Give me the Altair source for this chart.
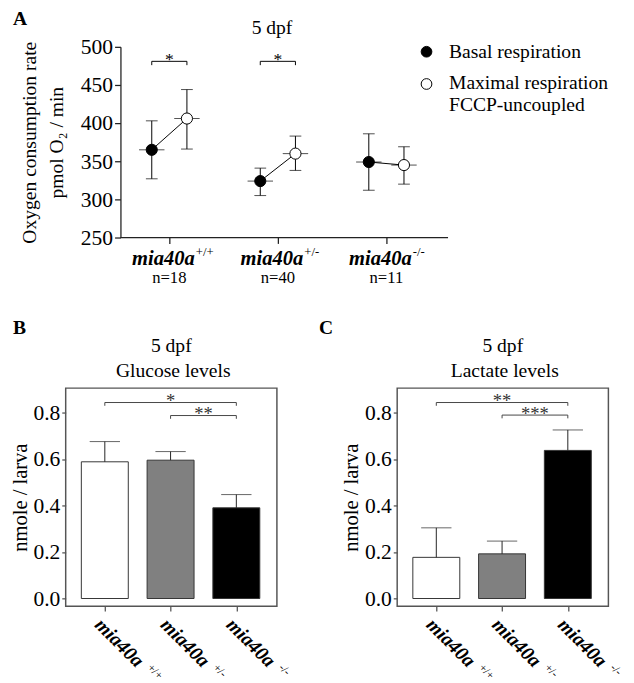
import altair as alt
import pandas as pd

FONT = "Liberation Serif"

# ---------------- Panel A : oxygen consumption ----------------
a_groups = [1, 2, 3]
a_genotype = ["+/+", "+/-", "-/-"]
a_n = ["n=18", "n=40", "n=11"]
series_names = ["Basal respiration", "Maximal respiration"]
basal_mean = [365, 324, 349]
basal_low = [327, 305, 312]
basal_high = [403, 341, 386]
maximal_mean = [406, 360, 345]
maximal_low = [366, 338, 320]
maximal_high = [444, 383, 369]
a_sig_groups = [1, 2]
a_sig_text = ["*", "*"]
a_sig_level = [481, 481]
a_sig_drop = [476, 476]
a_ticks = [250, 300, 350, 400, 450, 500]

# ---------------- Panels B / C : glucose, lactate ----------------
bar_genotype = ["+/+", "+/-", "-/-"]
glucose_mean = [0.588, 0.595, 0.390]
glucose_err = [0.675, 0.632, 0.447]
glucose_sig_from = [0, 1]
glucose_sig_to = [2, 2]
glucose_sig_level = [0.843, 0.787]
glucose_sig_drop = [0.829, 0.773]
glucose_sig_text = ["*", "**"]

lactate_mean = [0.177, 0.192, 0.637]
lactate_err = [0.304, 0.247, 0.725]
lactate_sig_from = [0, 1]
lactate_sig_to = [2, 2]
lactate_sig_level = [0.843, 0.789]
lactate_sig_drop = [0.829, 0.775]
lactate_sig_text = ["**", "***"]
b_ticks = [0, 0.2, 0.4, 0.6, 0.8]

# layout constants (scale domains / offsets)
A_DOMAIN = [0.045, 3.568]
A_AXIS_START = 0.55
OFF = 0.162   # horizontal offset of the two series inside a group
HALF = 0.357  # half bar width in index units
B_DOMAIN = [-0.595, 2.617]

# ---------- Panel A ----------
rows = []
for i, g in enumerate(a_groups):
    rows.append(dict(group=g, series=series_names[0], mean=basal_mean[i],
                     low=basal_low[i], high=basal_high[i], x=g - OFF))
    rows.append(dict(group=g, series=series_names[1], mean=maximal_mean[i],
                     low=maximal_low[i], high=maximal_high[i], x=g + OFF))
dfA = pd.DataFrame(rows)

dfA_sig = pd.DataFrame({"group": a_sig_groups, "text": a_sig_text,
                        "level": a_sig_level, "drop": a_sig_drop})
dfA_sig["x1"] = dfA_sig["group"] - OFF
dfA_sig["x2"] = dfA_sig["group"] + OFF
ends = []
for _, r in dfA_sig.iterrows():
    ends.append(dict(x=r["x1"], level=r["level"], drop=r["drop"]))
    ends.append(dict(x=r["x2"], level=r["level"], drop=r["drop"]))
dfA_ends = pd.DataFrame(ends)

dfA_lab = pd.DataFrame({"group": a_groups, "geno": a_genotype, "n": a_n,
                        "name": ["mia40a"] * 3})

WA, HA = 391, 195
xscaleA = alt.Scale(domain=A_DOMAIN, nice=False, zero=False)
yscaleA = alt.Scale(domain=[250, 500], nice=False, zero=False)
xaxisA = alt.Axis(values=[1, 2, 3], labels=False, title=None, tickSize=6, domain=False,
                  tickColor="#222")
yaxisA = alt.Axis(values=a_ticks, tickSize=6, offset=-56, labelOverlap=False,
                  title=["Oxygen consumption rate", "pmol O\u2082 / min"],
                  titleFontSize=20, titleLineHeight=28, titlePadding=14,
                  domainColor="#222", tickColor="#222")


def XA(f):
    return alt.X(f, scale=xscaleA, axis=xaxisA)


def YA(f):
    return alt.Y(f, scale=yscaleA, axis=yaxisA)


base = alt.Chart(dfA)
lines = base.mark_line(color="black", strokeWidth=1).encode(x=XA("x:Q"), y=YA("mean:Q"), detail="group:N")
xaxis_line = alt.Chart(pd.DataFrame({"xs": [A_AXIS_START], "xe": [A_DOMAIN[1]]})).mark_rule(
    color="#222", strokeWidth=1.3).encode(x=XA("xs:Q"), x2="xe:Q", y=alt.value(HA))
err = base.mark_rule(color="black", strokeWidth=1).encode(x=XA("x:Q"), y=YA("low:Q"), y2="high:Q")
cap_lo = base.mark_tick(orient="horizontal", size=12, thickness=1, color="black").encode(
    x=XA("x:Q"), y=YA("low:Q"))
cap_hi = base.mark_tick(orient="horizontal", size=12, thickness=1, color="black").encode(
    x=XA("x:Q"), y=YA("high:Q"))
cross = base.mark_tick(orient="horizontal", size=26, thickness=1, color="black").encode(
    x=XA("x:Q"), y=YA("mean:Q"))
pts = base.mark_circle(size=130, opacity=1, stroke="black", strokeWidth=1).encode(
    x=XA("x:Q"), y=YA("mean:Q"),
    fill=alt.Fill("series:N", scale=alt.Scale(domain=series_names, range=["black", "white"]), legend=None))

sigA = alt.Chart(dfA_sig)
br = sigA.mark_rule(color="black", strokeWidth=1).encode(x=XA("x1:Q"), x2="x2:Q", y=YA("level:Q"))
br_ends = alt.Chart(dfA_ends).mark_rule(color="black", strokeWidth=1).encode(
    x=XA("x:Q"), y=YA("level:Q"), y2="drop:Q")
stars = sigA.mark_text(fontSize=18, baseline="alphabetic", dy=4, color="black").encode(
    x=XA("group:Q"), y=YA("level:Q"), text="text:N")

labA = alt.Chart(dfA_lab)
lab_name = labA.mark_text(fontSize=21, fontWeight="bold", fontStyle="italic", align="right",
                          baseline="alphabetic", dx=26, color="black").encode(
    x=XA("group:Q"), y=alt.value(HA + 28), text="name:N")
lab_sup = labA.mark_text(fontSize=13, align="left", baseline="alphabetic", dx=27, color="black").encode(
    x=XA("group:Q"), y=alt.value(HA + 19), text="geno:N")
lab_n = labA.mark_text(fontSize=17, align="center", baseline="alphabetic", color="black").encode(
    x=XA("group:Q"), y=alt.value(HA + 47), text="n:N")

one = alt.Chart(pd.DataFrame({"k": [0]}))


def txt(s, x, y, size=20, align="left", baseline="middle", weight="normal"):
    return one.mark_text(fontSize=size, align=align, baseline=baseline, fontWeight=weight,
                         color="black").encode(x=alt.value(x), y=alt.value(y), text=alt.value(s))


leg_c1 = one.mark_circle(size=120, opacity=1, fill="black", stroke="black", strokeWidth=1).encode(
    x=alt.value(369), y=alt.value(5))
leg_c2 = one.mark_circle(size=120, opacity=1, fill="white", stroke="black", strokeWidth=1).encode(
    x=alt.value(369), y=alt.value(38))
leg_t1 = txt("Basal respiration", 392, 5)
leg_t2 = txt("Maximal respiration", 392, 37)
leg_t3 = txt("FCCP-uncoupled", 392, 60)
titleA = txt("5 dpf", 211, -13, align="center", baseline="alphabetic")
letterA = txt("A", -54, -22, size=20, baseline="alphabetic", weight="bold")

chartA = alt.layer(lines, xaxis_line, err, cap_lo, cap_hi, cross, pts, br, br_ends, stars,
                   lab_name, lab_sup, lab_n, leg_c1, leg_c2, leg_t1, leg_t2, leg_t3,
                   titleA, letterA).properties(width=WA, height=HA)


# ---------- Panels B / C ----------
WB, HB = 216, 223


def bar_panel(letter, letter_x, line2, means, errs, s_from, s_to, s_level, s_drop, s_text):
    df = pd.DataFrame({"idx": [0, 1, 2], "geno": bar_genotype, "mean": means, "err": errs,
                       "name": ["mia40a"] * 3})
    df["x1"] = df["idx"] - HALF
    df["x2"] = df["idx"] + HALF
    sig = pd.DataFrame({"a": s_from, "b": s_to, "level": s_level, "drop": s_drop, "text": s_text})
    sig["mid"] = (sig["a"] + sig["b"]) / 2
    e = []
    for _, r in sig.iterrows():
        e.append(dict(x=r["a"], level=r["level"], drop=r["drop"]))
        e.append(dict(x=r["b"], level=r["level"], drop=r["drop"]))
    sig_ends = pd.DataFrame(e)

    xs = alt.Scale(domain=B_DOMAIN, nice=False, zero=False)
    ys = alt.Scale(domain=[-0.033, 0.905], nice=False, zero=False)
    xax = alt.Axis(values=[0, 1, 2], labels=False, title=None, tickSize=5, domain=False,
                   tickColor="#555")
    yax = alt.Axis(values=b_ticks, format=".1f", title="nmole / larva", labelOverlap=False,
                   tickSize=4, domain=False, titleFontSize=21, titlePadding=3, tickColor="#555")

    def X(f):
        return alt.X(f, scale=xs, axis=xax)

    def Y(f):
        return alt.Y(f, scale=ys, axis=yax)

    b = alt.Chart(df)
    bars = b.mark_bar(stroke="#333", strokeWidth=1).encode(
        x=X("x1:Q"), x2="x2:Q", y=Y("mean:Q"), y2=alt.datum(0),
        fill=alt.Fill("geno:N", scale=alt.Scale(domain=bar_genotype, range=["white", "#808080", "black"]),
                      legend=None))
    erule = b.mark_rule(color="#222", strokeWidth=1).encode(x=X("idx:Q"), y=Y("mean:Q"), y2="err:Q")
    ecap = b.mark_tick(orient="horizontal", size=31, thickness=1, color="#222").encode(
        x=X("idx:Q"), y=Y("err:Q"))
    s = alt.Chart(sig)
    srule = s.mark_rule(color="#444", strokeWidth=1).encode(x=X("a:Q"), x2="b:Q", y=Y("level:Q"))
    sends = alt.Chart(sig_ends).mark_rule(color="#444", strokeWidth=1).encode(
        x=X("x:Q"), y=Y("level:Q"), y2="drop:Q")
    stext = s.mark_text(fontSize=19, baseline="alphabetic", dy=5, color="#333").encode(
        x=X("mid:Q"), y=Y("level:Q"), text="text:N")
    lname = b.mark_text(fontSize=20, fontWeight="bold", fontStyle="italic", align="left", baseline="top",
                        angle=45, dx=-0.7, dy=-0.8, color="black").encode(
        x=X("idx:Q"), y=alt.value(HB + 10), text="name:N")
    lsup = b.mark_text(fontSize=12, align="left", baseline="top", angle=45, dx=68, dy=-1.5,
                       color="black").encode(
        x=X("idx:Q"), y=alt.value(HB + 10), text="geno:N")
    t1 = txt("5 dpf", 108, -37, align="center", baseline="alphabetic")
    t2 = txt(line2, 110, -11, align="center", baseline="alphabetic")
    lt = txt(letter, letter_x, -55, size=20, baseline="alphabetic", weight="bold")
    return alt.layer(bars, erule, ecap, srule, sends, stext, lname, lsup, t1, t2, lt).properties(
        width=WB, height=HB,
        view=alt.ViewBackground(stroke="#555", strokeWidth=1.5),
    )


chartB = bar_panel("B", -54, "Glucose levels", glucose_mean, glucose_err, glucose_sig_from, glucose_sig_to,
                   glucose_sig_level, glucose_sig_drop, glucose_sig_text)
chartC = bar_panel("C", -80, "Lactate levels", lactate_mean, lactate_err, lactate_sig_from, lactate_sig_to,
                   lactate_sig_level, lactate_sig_drop, lactate_sig_text)

bottom = alt.hconcat(chartB, chartC, spacing=24).resolve_scale(fill="independent")
chart = alt.vconcat(chartA, bottom, spacing=31).resolve_scale(fill="independent").properties(
    padding={"left": 0, "top": -7, "right": 0, "bottom": 0}
).configure_axis(
    labelFont=FONT, titleFont=FONT, labelFontSize=22, titleFontSize=21,
    labelColor="black", titleColor="black", titleFontWeight="normal",
    domainColor="#333", tickColor="#333", domainWidth=1.3, tickWidth=1.3,
    grid=False, labelPadding=2, labelOverlap=False,
).configure_text(font=FONT).configure_view(stroke="transparent")

chart.save("out.html", embed_options={"renderer": "svg", "actions": False})
